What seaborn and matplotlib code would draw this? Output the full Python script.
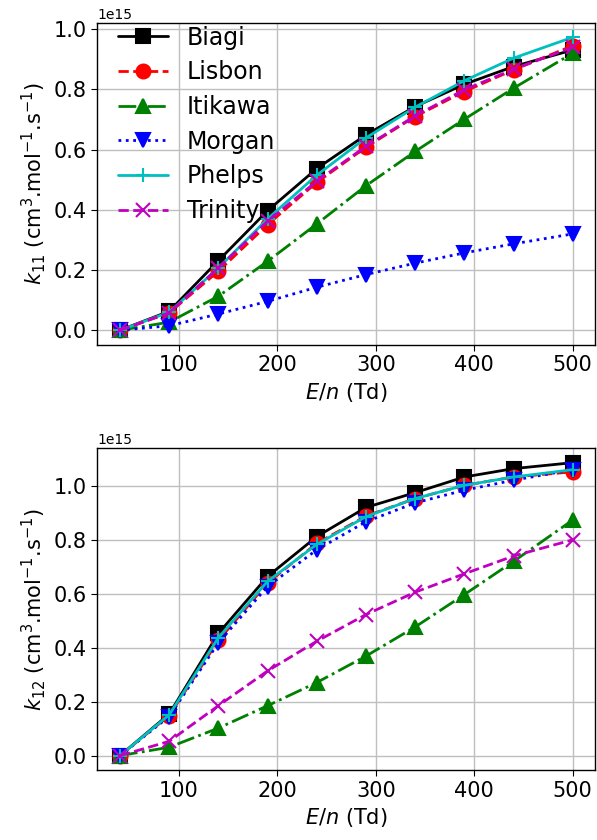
import numpy as np
import pandas as pd
import matplotlib
matplotlib.use("Agg")
import matplotlib.pyplot as plt
import seaborn as sns

# ==========================================
# data (units of 1e15)
# ==========================================
EN = [40, 90, 140, 190, 240, 290, 340, 390, 440, 500]

k11_biagi = [0.0, 0.063, 0.231, 0.397, 0.537, 0.649, 0.743, 0.817, 0.876, 0.931]
k11_lisbon = [0.0, 0.058, 0.196, 0.351, 0.491, 0.608, 0.710, 0.793, 0.865, 0.945]
k11_itikawa = [0.0, 0.027, 0.113, 0.229, 0.353, 0.480, 0.594, 0.701, 0.804, 0.920]
k11_morgan = [0.0, 0.015, 0.054, 0.096, 0.143, 0.185, 0.223, 0.257, 0.287, 0.320]
k11_phelps = [0.0, 0.060, 0.207, 0.370, 0.515, 0.639, 0.741, 0.829, 0.904, 0.973]
k11_trinity = [0.0, 0.058, 0.207, 0.362, 0.495, 0.611, 0.712, 0.799, 0.867, 0.940]

k12_biagi = [0.0, 0.154, 0.453, 0.664, 0.812, 0.920, 0.975, 1.033, 1.064, 1.086]
k12_lisbon = [0.0, 0.148, 0.427, 0.640, 0.787, 0.888, 0.953, 1.002, 1.033, 1.052]
k12_itikawa = [0.0, 0.031, 0.102, 0.185, 0.271, 0.369, 0.477, 0.597, 0.720, 0.873]
k12_morgan = [0.0, 0.145, 0.418, 0.627, 0.763, 0.867, 0.937, 0.984, 1.021, 1.060]
k12_phelps = [0.0, 0.151, 0.437, 0.646, 0.783, 0.886, 0.953, 1.002, 1.033, 1.060]
k12_trinity = [0.0, 0.053, 0.185, 0.314, 0.424, 0.523, 0.606, 0.674, 0.740, 0.800]

SOURCES = ["Biagi", "Lisbon", "Itikawa", "Morgan", "Phelps", "Trinity"]
K11 = [k11_biagi, k11_lisbon, k11_itikawa, k11_morgan, k11_phelps, k11_trinity]
K12 = [k12_biagi, k12_lisbon, k12_itikawa, k12_morgan, k12_phelps, k12_trinity]

STYLES = {
    "Biagi": dict(color="k", marker="s", linestyle="-"),
    "Lisbon": dict(color="r", marker="o", linestyle="--"),
    "Itikawa": dict(color="g", marker="^", linestyle="-."),
    "Morgan": dict(color="b", marker="v", linestyle=":"),
    "Phelps": dict(color="c", marker="+", linestyle="-"),
    "Trinity": dict(color="m", marker="x", linestyle="--"),
}

sns.set_style("whitegrid", {"axes.edgecolor": "black", "grid.color": "0.75",
                            "text.color": "black", "axes.labelcolor": "black",
                            "xtick.color": "black", "ytick.color": "black",
                            "xtick.bottom": True, "ytick.left": True})
plt.rcParams['font.family'] = ['DejaVu Sans']


def draw(ax, values, label_idx, legend):
    for name, vals in zip(SOURCES, values):
        df = pd.DataFrame({"EN": EN, "k": np.array(vals) * 1e15})
        st = STYLES[name]
        sns.lineplot(data=df, x="EN", y="k", ax=ax, label=name,
                     color=st["color"], marker=st["marker"], linestyle=st["linestyle"],
                     linewidth=2, markersize=10, markeredgewidth=1.5,
                     markeredgecolor=st["color"])
    ax.set_xlabel("$E/n$ (Td)", fontsize=15)
    ax.set_ylabel("$k_{%s}$ (cm$^3$.mol$^{-1}$.s$^{-1}$)" % label_idx, fontsize=15)
    ax.tick_params(labelsize=15, length=4, color="black")
    ax.grid(True, linewidth=1)
    for sp in ax.spines.values():
        sp.set_linewidth(1.0)
    if legend:
        leg = ax.legend(loc="upper left", bbox_to_anchor=(0.023, 1.02), fontsize=17,
                        frameon=False, borderaxespad=0, handlelength=2.1,
                        handletextpad=0.8, labelspacing=0.45)
        leg.set_zorder(1)
    else:
        ax.get_legend().remove()


fig, (ax1, ax2) = plt.subplots(2, 1, figsize=(5.97, 8.4), dpi=100)
draw(ax1, K11, "11", True)
draw(ax2, K12, "12", False)
fig.subplots_adjust(left=0.163, right=0.997, top=0.973, bottom=0.083, hspace=0.32)
fig.savefig("out.png", dpi=100)
